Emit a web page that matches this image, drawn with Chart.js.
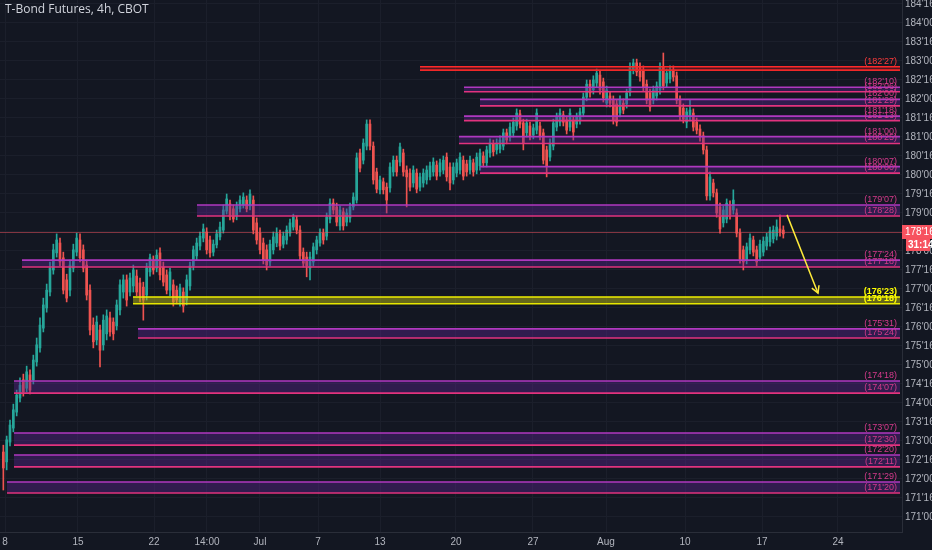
<!DOCTYPE html>
<html>
<head>
<meta charset="utf-8">
<title>T-Bond Futures, 4h, CBOT</title>
<script src="https://cdn.jsdelivr.net/npm/chart.js@4.4.1/dist/chart.umd.min.js"></script>
<style>
  html, body { margin: 0; padding: 0; background: #131722; }
  #wrap { width: 932px; height: 550px; position: relative; }
</style>
</head>
<body>
<div id="wrap"><canvas id="chart"></canvas></div>
<script>
// chart title
const chartTitle = 'T-Bond Futures, 4h, CBOT';

// 4h candles (prices in points)
const opens = [
  172.71, 172.45, 172.97, 173.34, 173.76, 174.13, 174.61, 174.39, 174.74, 174.61,
  175.08, 175.45, 175.97, 176.50, 176.92, 177.50, 177.95, 178.21, 177.82, 177.24,
  176.97, 177.55, 177.97, 178.29, 178.03, 177.63, 176.97, 176.05, 175.66, 175.92,
  175.53, 175.82, 176.24, 176.13, 176.03, 176.45, 176.92, 177.24, 176.92, 177.08,
  177.34, 177.16, 177.05, 176.84, 177.45, 177.76, 177.55, 177.95, 177.58, 177.37,
  176.97, 177.11, 176.97, 176.66, 176.92, 176.71, 177.08, 177.61, 177.87, 178.13,
  178.34, 178.50, 178.29, 177.97, 178.16, 178.37, 178.55, 179.05, 179.24, 179.11,
  178.92, 179.11, 179.21, 179.34, 179.18, 179.34, 178.74, 178.47, 178.21, 178.03,
  177.71, 178.03, 178.21, 178.45, 178.18, 178.29, 178.47, 178.63, 178.82, 178.55,
  177.97, 177.84, 177.55, 177.71, 178.03, 178.21, 178.47, 178.39, 178.84, 179.26,
  179.16, 178.66, 179.03, 178.76, 178.87, 179.16, 179.34, 180.58, 180.39, 180.76,
  181.34, 180.76, 180.08, 179.61, 179.82, 179.68, 179.66, 180.08, 180.39, 180.34,
  180.58, 180.13, 180.05, 179.79, 180.05, 179.68, 179.79, 179.87, 179.95, 180.08,
  180.26, 180.08, 180.13, 180.47, 180.21, 179.87, 180.05, 180.13, 180.39, 180.29,
  180.13, 180.32, 180.13, 180.24, 180.50, 180.32, 180.58, 180.82, 180.66, 180.68,
  180.76, 181.11, 181.00, 181.11, 181.29, 181.61, 181.37, 181.11, 181.29, 181.05,
  181.18, 181.29, 181.11, 180.66, 180.47, 180.76, 181.26, 181.39, 181.58, 181.45,
  181.26, 181.45, 181.34, 181.45, 181.63, 182.05, 182.39, 182.24, 182.42, 182.63,
  182.45, 181.89, 182.08, 181.97, 181.87, 181.63, 181.89, 181.87, 182.18, 182.76,
  182.95, 182.84, 182.76, 182.39, 182.16, 181.97, 182.08, 182.24, 182.84, 182.42,
  182.53, 182.76, 182.61, 181.97, 181.76, 181.39, 181.53, 181.63, 181.39, 181.21,
  181.03, 180.66, 179.45, 179.79, 179.53, 179.16, 178.74, 178.84, 179.21, 179.08,
  179.00, 178.47, 178.03, 177.76, 178.03, 178.29, 178.03, 177.84, 177.97, 178.13,
  178.24, 178.32, 178.39, 178.58, 178.55
];
const highs = [
  172.89, 173.13, 173.55, 173.97, 174.34, 174.66, 174.76, 174.97, 174.87, 175.26,
  175.71, 176.24, 176.76, 177.13, 177.71, 178.18, 178.45, 178.34, 177.97, 177.39,
  177.76, 178.18, 178.47, 178.45, 178.16, 177.76, 177.11, 176.24, 176.29, 176.05,
  176.32, 176.45, 176.39, 176.24, 176.71, 177.24, 177.37, 177.37, 177.42, 177.63,
  177.50, 177.29, 177.18, 177.68, 177.92, 177.87, 178.03, 178.08, 177.71, 177.50,
  177.55, 177.24, 177.08, 177.13, 177.03, 177.37, 177.71, 178.13, 178.34, 178.50,
  178.71, 178.61, 178.39, 178.29, 178.55, 178.76, 179.21, 179.50, 179.34, 179.21,
  179.29, 179.45, 179.53, 179.45, 179.61, 179.45, 178.87, 178.61, 178.34, 178.16,
  178.29, 178.50, 178.61, 178.55, 178.50, 178.66, 178.84, 178.97, 178.92, 178.66,
  178.08, 177.97, 177.97, 178.21, 178.39, 178.58, 178.58, 179.00, 179.37, 179.37,
  179.26, 179.18, 179.13, 179.11, 179.26, 179.53, 180.58, 180.68, 180.95, 181.45,
  181.45, 180.87, 180.18, 179.97, 179.92, 179.79, 180.32, 180.50, 180.50, 180.84,
  180.68, 180.24, 180.16, 180.24, 180.16, 180.05, 180.16, 180.24, 180.34, 180.45,
  180.37, 180.42, 180.50, 180.58, 180.32, 180.32, 180.42, 180.58, 180.50, 180.39,
  180.50, 180.42, 180.58, 180.68, 180.61, 180.76, 180.95, 180.92, 180.95, 181.03,
  181.21, 181.21, 181.37, 181.50, 181.74, 181.71, 181.47, 181.47, 181.39, 181.34,
  181.74, 181.39, 181.21, 180.76, 180.95, 181.47, 181.63, 181.74, 181.68, 181.55,
  181.74, 181.55, 181.63, 181.76, 182.16, 182.50, 182.50, 182.61, 182.79, 182.74,
  182.55, 182.34, 182.18, 182.08, 181.97, 182.08, 182.00, 182.26, 182.95, 183.05,
  183.05, 182.95, 182.87, 182.50, 182.26, 182.34, 182.45, 182.95, 183.21, 182.79,
  182.87, 182.87, 182.71, 182.08, 181.87, 181.76, 181.97, 181.74, 181.50, 181.32,
  181.13, 180.76, 180.08, 179.89, 179.63, 179.26, 179.18, 179.37, 179.32, 179.61,
  179.11, 178.58, 178.13, 178.21, 178.45, 178.39, 178.13, 178.29, 178.37, 178.47,
  178.63, 178.66, 178.82, 178.95, 178.66
];
const lows = [
  171.71, 172.24, 172.87, 173.24, 173.66, 174.03, 174.18, 174.29, 174.24, 174.50,
  174.97, 175.34, 175.87, 176.39, 176.82, 177.39, 177.84, 177.61, 176.87, 176.66,
  176.82, 177.45, 177.87, 177.71, 177.45, 176.71, 175.79, 175.45, 175.53, 174.95,
  175.39, 175.66, 175.76, 175.66, 175.92, 176.32, 176.76, 176.55, 176.82, 176.92,
  176.82, 176.66, 176.18, 176.71, 177.34, 177.39, 177.45, 177.24, 177.08, 176.87,
  176.82, 176.55, 176.61, 176.55, 176.39, 176.58, 176.97, 177.50, 177.76, 178.03,
  178.24, 177.92, 177.84, 177.87, 178.08, 178.29, 178.47, 178.97, 178.82, 178.76,
  178.82, 179.03, 179.13, 179.03, 179.08, 178.45, 178.18, 177.92, 177.66, 177.50,
  177.61, 177.92, 178.11, 178.03, 178.08, 178.18, 178.39, 178.55, 178.45, 177.76,
  177.58, 177.32, 177.24, 177.61, 177.92, 178.13, 178.18, 178.29, 178.74, 178.97,
  178.66, 178.55, 178.55, 178.66, 178.76, 179.08, 179.26, 180.08, 180.29, 180.66,
  180.66, 179.76, 179.53, 179.50, 179.50, 179.00, 179.55, 179.97, 179.97, 180.24,
  179.97, 179.16, 179.58, 179.68, 179.53, 179.58, 179.68, 179.76, 179.87, 179.97,
  179.87, 179.97, 180.03, 179.84, 179.61, 179.76, 179.95, 180.03, 179.87, 179.97,
  180.03, 179.97, 180.03, 180.13, 180.21, 180.21, 180.47, 180.50, 180.55, 180.58,
  180.66, 180.82, 180.89, 181.00, 181.18, 181.24, 180.66, 181.00, 180.92, 180.95,
  181.08, 180.92, 180.29, 179.95, 180.37, 180.66, 181.16, 181.29, 181.29, 181.08,
  181.16, 180.92, 181.24, 181.34, 181.53, 181.95, 182.05, 182.13, 182.32, 182.13,
  181.92, 181.79, 181.79, 181.34, 181.29, 181.53, 181.61, 181.76, 182.08, 182.66,
  182.61, 182.47, 182.21, 181.87, 181.68, 181.87, 181.97, 182.13, 182.24, 182.32,
  182.42, 182.47, 181.87, 181.45, 181.37, 181.24, 181.42, 181.16, 181.08, 180.89,
  180.55, 179.34, 179.34, 179.42, 178.89, 178.47, 178.63, 178.74, 178.84, 178.97,
  178.37, 177.68, 177.50, 177.66, 177.92, 177.87, 177.61, 177.74, 177.87, 178.03,
  178.13, 178.21, 178.29, 178.39, 178.34
];
const closes = [
  172.29, 173.03, 173.42, 173.82, 174.21, 174.47, 174.29, 174.82, 174.34, 175.13,
  175.53, 176.05, 176.58, 176.97, 177.55, 178.03, 178.29, 177.71, 176.97, 176.76,
  177.63, 178.03, 178.34, 177.82, 177.55, 176.84, 175.92, 175.61, 176.13, 175.39,
  176.18, 176.29, 175.87, 175.82, 176.58, 177.11, 177.24, 176.71, 177.29, 177.50,
  176.92, 176.82, 176.71, 177.55, 177.82, 177.50, 177.89, 177.37, 177.18, 176.97,
  177.45, 176.66, 176.71, 177.03, 176.55, 177.24, 177.61, 178.03, 178.21, 178.39,
  178.58, 178.03, 177.95, 178.18, 178.45, 178.63, 179.08, 179.37, 178.92, 178.84,
  179.18, 179.34, 179.42, 179.11, 179.50, 178.55, 178.29, 178.03, 177.76, 177.63,
  178.18, 178.37, 178.47, 178.13, 178.39, 178.55, 178.74, 178.89, 178.55, 177.87,
  177.68, 177.61, 177.84, 178.11, 178.29, 178.47, 178.29, 178.89, 179.26, 179.08,
  178.76, 179.08, 178.66, 179.00, 179.16, 179.42, 180.45, 180.18, 180.84, 181.34,
  180.76, 179.87, 179.63, 179.87, 179.61, 179.34, 180.21, 180.39, 180.08, 180.74,
  180.08, 179.95, 179.68, 180.13, 179.63, 179.95, 180.05, 180.13, 180.24, 180.34,
  179.97, 180.32, 180.39, 179.95, 179.79, 180.21, 180.32, 180.47, 179.97, 180.08,
  180.39, 180.08, 180.47, 180.58, 180.32, 180.66, 180.84, 180.61, 180.84, 180.92,
  181.11, 180.92, 181.26, 181.39, 181.63, 181.34, 180.84, 181.37, 181.03, 181.24,
  181.63, 181.03, 180.39, 180.24, 180.84, 181.37, 181.53, 181.63, 181.39, 181.18,
  181.63, 181.13, 181.53, 181.66, 182.05, 182.39, 182.16, 182.50, 182.68, 182.24,
  182.03, 182.24, 181.89, 181.45, 181.39, 181.97, 181.71, 182.16, 182.84, 182.95,
  182.71, 182.58, 182.32, 181.97, 181.79, 182.24, 182.34, 182.84, 182.34, 182.68,
  182.76, 182.58, 181.97, 181.55, 181.47, 181.66, 181.71, 181.26, 181.18, 181.00,
  180.66, 179.45, 179.95, 179.53, 179.00, 178.58, 179.08, 179.26, 178.95, 179.34,
  178.47, 177.79, 177.71, 178.11, 178.34, 177.97, 177.71, 178.18, 178.26, 178.37,
  178.53, 178.55, 178.63, 178.50, 178.45
];

// time axis: tick positions (in bar numbers) and their labels
const xTickPos = [1.5, 23.4, 46.2, 62.1, 78, 95.4, 114, 136.8, 159.9, 181.8, 205.5, 228.6, 251.4];
const xTickLabels = ['8', '15', '22', '14:00', 'Jul', '7', '13', '20', '27', 'Aug', '10', '17', '24'];

// price axis ticks
const yTicks = [171, 171.5, 172, 172.5, 173, 173.5, 174, 174.5, 175, 175.5, 176, 176.5, 177, 177.5,
  178, 178.5, 179, 179.5, 180, 180.5, 181, 181.5, 182, 182.5, 183, 183.5, 184, 184.5];

// drawn support / resistance zones
const zoneTop    = [182.85, 182.31, 181.99, 181.55, 181.01, 180.22, 179.21, 177.76, 176.79, 175.95, 174.58, 173.21, 172.63, 171.92];
const zoneBottom = [182.76, 182.19, 181.82, 181.43, 180.83, 180.05, 178.92, 177.58, 176.61, 175.71, 174.26, 172.89, 172.32, 171.63];
const zoneStart  = [126, 139.2, 144, 139.2, 137.7, 144, 59.1, 6.6, 39.9, 41.4, 4.2, 4.2, 4.2, 2.1];
const zoneTopLabel    = ["(182'27)", "(182'10)", "(182'00)", "(181'18)", "(181'00)", "(180'07)", "(179'07)", "(177'24)", "(176'23)", "(175'31)", "(174'18)", "(173'07)", "(172'20)", "(171'29)"];
const zoneBottomLabel = ["", "(182'06)", "(181'29)", "(181'13)", "(180'25)", "(180'00)", "(178'28)", "(177'18)", "(176'18)", "(175'24)", "(174'07)", "(172'30)", "(172'11)", "(171'20)"];
const zoneKind = ['red', 'pink', 'pink', 'pink', 'pink', 'pink', 'pink', 'pink', 'yellow', 'pink', 'pink', 'pink', 'pink', 'pink'];

// last price and bar countdown
const lastPrice = 178.5;
const lastPriceLabel = "178'16";
const countdownLabel = '31:14';

// projected move arrow [bar, price]
const arrowFrom = [236.1, 178.95];
const arrowTo = [245.4, 176.89];

const upColor = '#26a69a';
const downColor = '#ef5350';
const zoneStyles = {
  red:    { fill: 'rgba(190, 20, 30, 0.35)', top: '#ff2a2a', bottom: '#f02828', text: '#ff3b3b', font: '9px "Liberation Sans"' },
  pink:   { fill: 'rgba(98, 38, 150, 0.38)', top: '#b038c0', bottom: '#e2337e', text: '#d63a8c', font: '9px "Liberation Sans"' },
  yellow: { fill: 'rgba(185, 185, 20, 0.5)', top: '#f0f000', bottom: '#e8e800', text: '#ffff00', font: 'bold 9px "Liberation Sans"' }
};

function fmt32(v) {
  const whole = Math.floor(v + 1e-9);
  const frac = Math.round((v - whole) * 32);
  return whole + "'" + String(frac).padStart(2, '0');
}

const candleColors = opens.map((o, i) => closes[i] >= o ? upColor : downColor);

const overlayPlugin = {
  id: 'overlay',
  afterDatasetsDraw(chart) {
    const { ctx, chartArea, scales } = chart;
    const xs = scales.x, ys = scales.y;
    ctx.save();
    ctx.beginPath();
    ctx.rect(chartArea.left, chartArea.top, chartArea.width, chartArea.height);
    ctx.clip();

    // last price line
    const py = Math.round(ys.getPixelForValue(lastPrice)) + 0.5;
    ctx.strokeStyle = 'rgba(242, 84, 95, 0.5)';
    ctx.lineWidth = 1;
    ctx.beginPath();
    ctx.moveTo(chartArea.left, py);
    ctx.lineTo(chartArea.right, py);
    ctx.stroke();

    // zones
    const xEnd = chartArea.right - 2;
    zoneTop.forEach((top, i) => {
      const st = zoneStyles[zoneKind[i]];
      const x0 = xs.getPixelForValue(zoneStart[i]);
      const y0 = ys.getPixelForValue(top);
      const y1 = ys.getPixelForValue(zoneBottom[i]);
      ctx.fillStyle = st.fill;
      ctx.fillRect(x0, y0, xEnd - x0, y1 - y0);
      ctx.lineWidth = 1.6;
      ctx.strokeStyle = st.top;
      ctx.beginPath(); ctx.moveTo(x0, y0); ctx.lineTo(xEnd, y0); ctx.stroke();
      ctx.strokeStyle = st.bottom;
      ctx.beginPath(); ctx.moveTo(x0, y1); ctx.lineTo(xEnd, y1); ctx.stroke();

      ctx.font = st.font;
      ctx.fillStyle = st.text;
      ctx.textAlign = 'right';
      ctx.textBaseline = 'bottom';
      if (zoneTopLabel[i]) ctx.fillText(zoneTopLabel[i], chartArea.right - 5, y0 - 1);
      if (zoneBottomLabel[i]) ctx.fillText(zoneBottomLabel[i], chartArea.right - 5, y1 - 1);
    });

    // arrow
    const ax0 = xs.getPixelForValue(arrowFrom[0]), ay0 = ys.getPixelForValue(arrowFrom[1]);
    const ax1 = xs.getPixelForValue(arrowTo[0]), ay1 = ys.getPixelForValue(arrowTo[1]);
    ctx.strokeStyle = '#ffeb3b';
    ctx.lineWidth = 1.5;
    ctx.beginPath(); ctx.moveTo(ax0, ay0); ctx.lineTo(ax1, ay1); ctx.stroke();
    const ang = Math.atan2(ay1 - ay0, ax1 - ax0);
    ctx.beginPath();
    ctx.moveTo(ax1 - 8 * Math.cos(ang - 0.5), ay1 - 8 * Math.sin(ang - 0.5));
    ctx.lineTo(ax1, ay1);
    ctx.lineTo(ax1 - 8 * Math.cos(ang + 0.5), ay1 - 8 * Math.sin(ang + 0.5));
    ctx.stroke();
    ctx.restore();
  },
  afterDraw(chart) {
    const { ctx, chartArea, scales } = chart;
    const ys = scales.y;
    ctx.save();
    // title
    ctx.font = '12px "Open Sans"';
    ctx.fillStyle = '#d1d4dc';
    ctx.textAlign = 'left';
    ctx.textBaseline = 'middle';
    ctx.fillText(chartTitle, 5, 10);

    // last price / countdown badges on the price axis
    const py = ys.getPixelForValue(lastPrice);
    ctx.fillStyle = '#f7525f';
    ctx.fillRect(chartArea.right, py - 7, chart.width - chartArea.right, 14);
    ctx.fillRect(chartArea.right + 4, py + 7, chart.width - chartArea.right - 6, 12);
    ctx.fillStyle = '#ffffff';
    ctx.font = '10px "Liberation Sans"';
    ctx.textAlign = 'left';
    ctx.fillText(lastPriceLabel, chartArea.right + 3, py);
    ctx.font = 'bold 10px "Liberation Sans"';
    ctx.fillText(countdownLabel, chartArea.right + 6, py + 13);
    ctx.restore();
  }
};

new Chart(document.getElementById('chart'), {
  type: 'bar',
  data: {
    datasets: [
      {
        label: 'wicks',
        data: highs.map((h, i) => ({ x: i + 1, y: [lows[i], h] })),
        backgroundColor: candleColors,
        barThickness: 1,
        grouped: false,
        order: 2
      },
      {
        label: 'bodies',
        data: opens.map((o, i) => ({ x: i + 1, y: [o, closes[i]] })),
        backgroundColor: candleColors,
        barThickness: 2,
        minBarLength: 1,
        grouped: false,
        order: 1
      }
    ]
  },
  options: {
    responsive: true,
    maintainAspectRatio: false,
    animation: false,
    layout: { padding: 0 },
    plugins: {
      legend: { display: false },
      tooltip: { enabled: false }
    },
    scales: {
      x: {
        type: 'linear',
        min: 0,
        max: 270.6,
        offset: false,
        afterBuildTicks: (scale) => { scale.ticks = xTickPos.map(v => ({ value: v })); },
        afterFit: (scale) => {
          scale.height = 18;
          scale.paddingLeft = 0;
          scale.paddingRight = 0;
        },
        grid: { color: '#1b1f2b', offset: false, drawTicks: false },
        border: { color: '#2a2e39' },
        ticks: {
          color: '#b2b5be',
          font: { size: 10, family: 'Liberation Sans' },
          padding: 4,
          maxRotation: 0,
          autoSkip: false,
          callback: (v, i) => xTickLabels[i]
        }
      },
      y: {
        type: 'linear',
        position: 'right',
        min: 170.605,
        max: 184.605,
        beginAtZero: false,
        afterBuildTicks: (scale) => { scale.ticks = yTicks.map(v => ({ value: v })); },
        afterFit: (scale) => {
          scale.width = 30;
          scale.paddingTop = 0;
          scale.paddingBottom = 0;
        },
        grid: { color: '#1b1f2b', drawTicks: false },
        border: { color: '#2a2e39' },
        ticks: {
          color: '#b2b5be',
          font: { size: 10, family: 'Liberation Sans' },
          padding: 3,
          callback: (v) => fmt32(v)
        }
      }
    }
  },
  plugins: [overlayPlugin]
});
</script>
</body>
</html>
